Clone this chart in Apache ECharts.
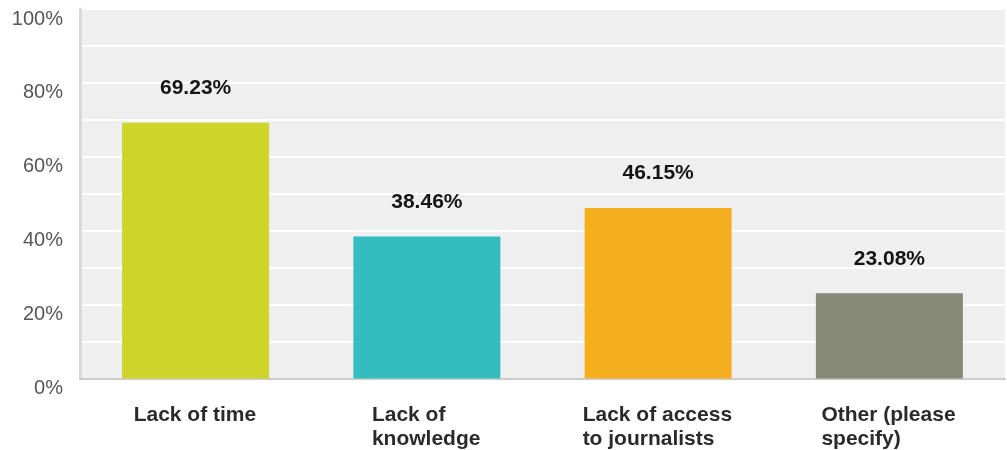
<!DOCTYPE html>
<html>
<head>
<meta charset="utf-8">
<script src="https://cdn.jsdelivr.net/npm/echarts@6/dist/echarts.min.js"></script>
<style>html,body{margin:0;padding:0;background:#fff;}#c{width:1007px;height:450px;}</style>
</head>
<body>
<div id="c"></div>
<script>
const categories = ['Lack of time', 'Lack of\nknowledge', 'Lack of access\nto journalists', 'Other (please\nspecify)'];
const values = [69.23, 38.46, 46.15, 23.08];
const barColors = ['#cfd42a', '#33bdbf', '#f5ae1e', '#878a77'];
const yTickStep = 10;
const yLabelStep = 20;

const xFont = 'bold 21px "Liberation Sans", Arial, sans-serif';
const ctx = document.createElement('canvas').getContext('2d');
ctx.font = xFont;
const rich = {};
categories.forEach((c, i) => {
  const w = Math.max(...c.split('\n').map(l => ctx.measureText(l).width));
  rich['c' + i] = { width: Math.ceil(w) + 1, align: 'left', fontSize: 21, fontWeight: 'bold', fontFamily: '"Liberation Sans", Arial, sans-serif', color: '#2a2a2a', lineHeight: 24 };
});

const chart = echarts.init(document.getElementById('c'), null, { renderer: 'canvas' });
chart.setOption({
  animation: false,
  grid: { left: 80, right: 2, top: 9, bottom: 71, show: true, backgroundColor: '#efefef', borderWidth: 0 },
  xAxis: {
    type: 'category',
    data: categories,
    axisTick: { show: false },
    axisLine: { show: true, lineStyle: { color: '#cccccc', width: 2 } },
    axisLabel: {
      margin: 25,
      interval: 0,
      formatter: function (v, idx) {
        return v.split('\n').map(l => '{c' + idx + '|' + l + '}').join('\n');
      },
      rich: rich
    }
  },
  yAxis: {
    type: 'value',
    min: 0, max: 100, interval: yTickStep,
    axisLine: { show: true, lineStyle: { color: '#d9d9d9', width: 3 } },
    axisTick: { show: false },
    splitLine: { show: true, lineStyle: { color: '#ffffff', width: 2 } },
    axisLabel: {
      margin: 17,
      fontSize: 20,
      color: '#555555',
      fontFamily: '"Liberation Sans", Arial, sans-serif',
      verticalAlign: 'top',
      formatter: function (v) { return v % yLabelStep === 0 ? v + '%' : ''; }
    }
  },
  series: [{
    type: 'bar',
    barWidth: 147,
    data: values.map((v, i) => ({ value: v, itemStyle: { color: barColors[i] } })),
    label: {
      show: true,
      position: 'top',
      distance: 24,
      fontSize: 21,
      fontWeight: 'bold',
      color: '#151515',
      fontFamily: '"Liberation Sans", Arial, sans-serif',
      formatter: function (p) { return p.value.toFixed(2) + '%'; }
    }
  }]
});
</script>
</body>
</html>
